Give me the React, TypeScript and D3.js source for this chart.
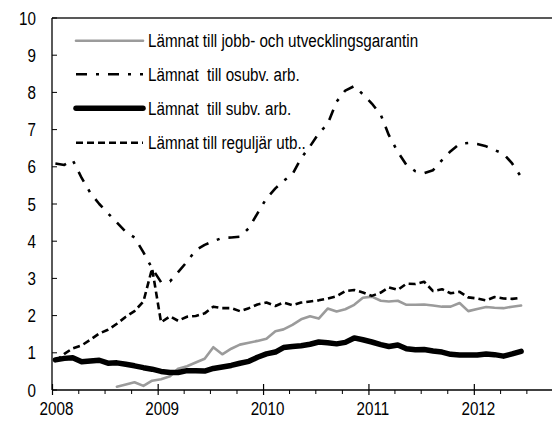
import React from "react";
import * as d3 from "d3";

// Monthly observations, January 2008 – June 2012
const startYear = 2008;
const startMonth = 0;

const jobbgarantin: (number | null)[] = [
  null, null, null, null, null, null, null, 0.09, 0.15, 0.21, 0.11, 0.25,
  0.29, 0.37, 0.57, 0.64, 0.74, 0.84, 1.15, 0.96, 1.11, 1.22, 1.27, 1.32,
  1.38, 1.58, 1.63, 1.75, 1.9, 1.98, 1.92, 2.19, 2.11, 2.17, 2.29, 2.48,
  2.51, 2.4, 2.38, 2.4, 2.29, 2.29, 2.3, 2.27, 2.24, 2.24, 2.34, 2.12,
  2.18, 2.23, 2.21, 2.2, 2.24, 2.27,
];

const osubvArb: number[] = [
  6.09, 6.05, 6.18, 5.7, 5.3, 5.0, 4.75, 4.5, 4.25, 4.1, 3.7, 3.27,
  2.9, 2.92, 3.17, 3.45, 3.76, 3.9, 4.0, 4.09, 4.1, 4.12, 4.35, 4.75,
  5.15, 5.42, 5.62, 5.8, 6.23, 6.55, 6.9, 7.15, 7.75, 8.05, 8.17, 7.95,
  7.7, 7.4, 6.85, 6.4, 6.05, 5.88, 5.83, 5.91, 6.18, 6.42, 6.62, 6.64,
  6.61, 6.55, 6.45, 6.35, 6.09, 5.73,
];

const subvArb: number[] = [
  0.81, 0.85, 0.87, 0.76, 0.78, 0.8, 0.72, 0.73, 0.69, 0.65, 0.6, 0.56,
  0.5, 0.47, 0.47, 0.52, 0.52, 0.51, 0.58, 0.62, 0.66, 0.72, 0.77, 0.88,
  0.97, 1.02, 1.14, 1.17, 1.19, 1.23, 1.29, 1.27, 1.24, 1.28, 1.4, 1.35,
  1.29, 1.22, 1.17, 1.21, 1.11, 1.08, 1.09, 1.05, 1.02, 0.96, 0.94, 0.94,
  0.94, 0.97, 0.95, 0.91, 0.97, 1.04,
];

const reguljarUtb: number[] = [
  0.78, 0.97, 1.12, 1.2, 1.35, 1.52, 1.62, 1.78, 1.97, 2.12, 2.38, 3.27,
  1.82, 1.98, 1.86, 1.97, 1.99, 2.06, 2.24, 2.2, 2.2, 2.12, 2.2, 2.3,
  2.35, 2.26, 2.35, 2.28, 2.35, 2.38, 2.41, 2.46, 2.52, 2.66, 2.69, 2.62,
  2.53, 2.62, 2.76, 2.69, 2.86, 2.85, 2.91, 2.66, 2.71, 2.6, 2.64, 2.49,
  2.46, 2.41, 2.5, 2.46, 2.45, 2.48,
];

const legendLabels = [
  "Lämnat till jobb- och utvecklingsgarantin",
  "Lämnat  till osubv. arb.",
  "Lämnat  till subv. arb.",
  "Lämnat till reguljär utb..",
];

const yTicks = [0, 1, 2, 3, 4, 5, 6, 7, 8, 9, 10];
const yearTicks = [2008, 2009, 2010, 2011, 2012];

const W = 552;
const H = 421;
const FONT = "'Liberation Sans', Arial, sans-serif";
const FS = 19;
const SX = 0.8;

type Series = {
  values: (number | null)[];
  stroke: string;
  width: number;
  dash?: string;
};

function Label(props: {
  x: number;
  y: number;
  anchor?: "start" | "middle" | "end";
  dy?: string;
  children: React.ReactNode;
}) {
  return (
    <text
      transform={`translate(${props.x},${props.y}) scale(${SX},1)`}
      textAnchor={props.anchor || "start"}
      dy={props.dy}
      fontSize={FS}
      fill="#000"
      style={{ whiteSpace: "pre" }}
    >
      {props.children}
    </text>
  );
}

export default function App() {
  const x = d3
    .scaleTime()
    .domain([new Date(2008, 0, 1), new Date(2013, 0, 1)])
    .range([52.5, 580]);
  const y = d3.scaleLinear().domain([0, 10]).range([390, 18]);

  const dateOf = (i: number) => new Date(startYear, startMonth + i, 11);

  const series: Series[] = [
    { values: jobbgarantin, stroke: "#9b9b9b", width: 2.6 },
    { values: osubvArb, stroke: "#000", width: 2.6, dash: "11,9,3,9" },
    { values: subvArb, stroke: "#000", width: 5.5 },
    { values: reguljarUtb, stroke: "#000", width: 2.6, dash: "7,4" },
  ];

  const lineGen = d3
    .line<number | null>()
    .defined((d) => d !== null)
    .x((_, i) => x(dateOf(i)))
    .y((d) => y(d as number));

  const quarterTicks: Date[] = [];
  for (let yr = 2008; yr <= 2012; yr++) {
    for (let q = 1; q < 4; q++) quarterTicks.push(new Date(yr, q * 3, 1));
  }

  const legendRowY = [40.7, 74.3, 108.3, 142.7];

  return (
    <svg
      width={W}
      height={H}
      style={{ position: "absolute", left: 0, top: 0, background: "#fff" }}
      fontFamily={FONT}
    >
      <rect x={0} y={0} width={W} height={H} fill="#fff" />
      {/* top frame */}
      <line x1={52} x2={W} y1={y(10)} y2={y(10)} stroke="#222" strokeWidth={1.3} />
      {/* y axis */}
      <line x1={52} x2={52} y1={y(10)} y2={y(0)} stroke="#000" strokeWidth={1.3} />
      {yTicks.map((t) => (
        <g key={"y" + t}>
          <line x1={52} x2={57} y1={y(t)} y2={y(t)} stroke="#000" strokeWidth={1} />
          <Label x={36} y={y(t)} dy="0.35em" anchor="end">
            {t}
          </Label>
        </g>
      ))}
      {/* x axis */}
      <line x1={52} x2={W} y1={y(0)} y2={y(0)} stroke="#000" strokeWidth={1.3} />
      {quarterTicks.map((d, i) => (
        <line
          key={"q" + i}
          x1={x(d)}
          x2={x(d)}
          y1={y(0)}
          y2={y(0) + 4}
          stroke="#000"
          strokeWidth={1}
        />
      ))}
      {yearTicks.map((yr) => (
        <g key={"x" + yr}>
          <line
            x1={x(new Date(yr, 0, 1))}
            x2={x(new Date(yr, 0, 1))}
            y1={y(0) - 6}
            y2={y(0) + 5}
            stroke="#000"
            strokeWidth={1.2}
          />
          <Label x={x(new Date(yr, 0, 1)) + 4} y={415} anchor="middle">
            {yr}
          </Label>
        </g>
      ))}
      {/* series */}
      {series.map((s, i) => (
        <path
          key={"s" + i}
          d={lineGen(s.values) || ""}
          fill="none"
          stroke={s.stroke}
          strokeWidth={s.width}
          strokeDasharray={s.dash}
          strokeLinejoin="round"
          strokeLinecap={s.dash ? "butt" : "round"}
        />
      ))}
      {/* legend */}
      {series.map((s, i) => (
        <g key={"l" + i}>
          <line
            x1={76}
            x2={143}
            y1={legendRowY[i]}
            y2={legendRowY[i]}
            stroke={s.stroke}
            strokeWidth={s.width}
            strokeDasharray={s.dash}
            strokeLinecap={s.dash ? "butt" : "round"}
          />
          <Label x={148} y={legendRowY[i]} dy="0.35em">
            {legendLabels[i]}
          </Label>
        </g>
      ))}
    </svg>
  );
}
